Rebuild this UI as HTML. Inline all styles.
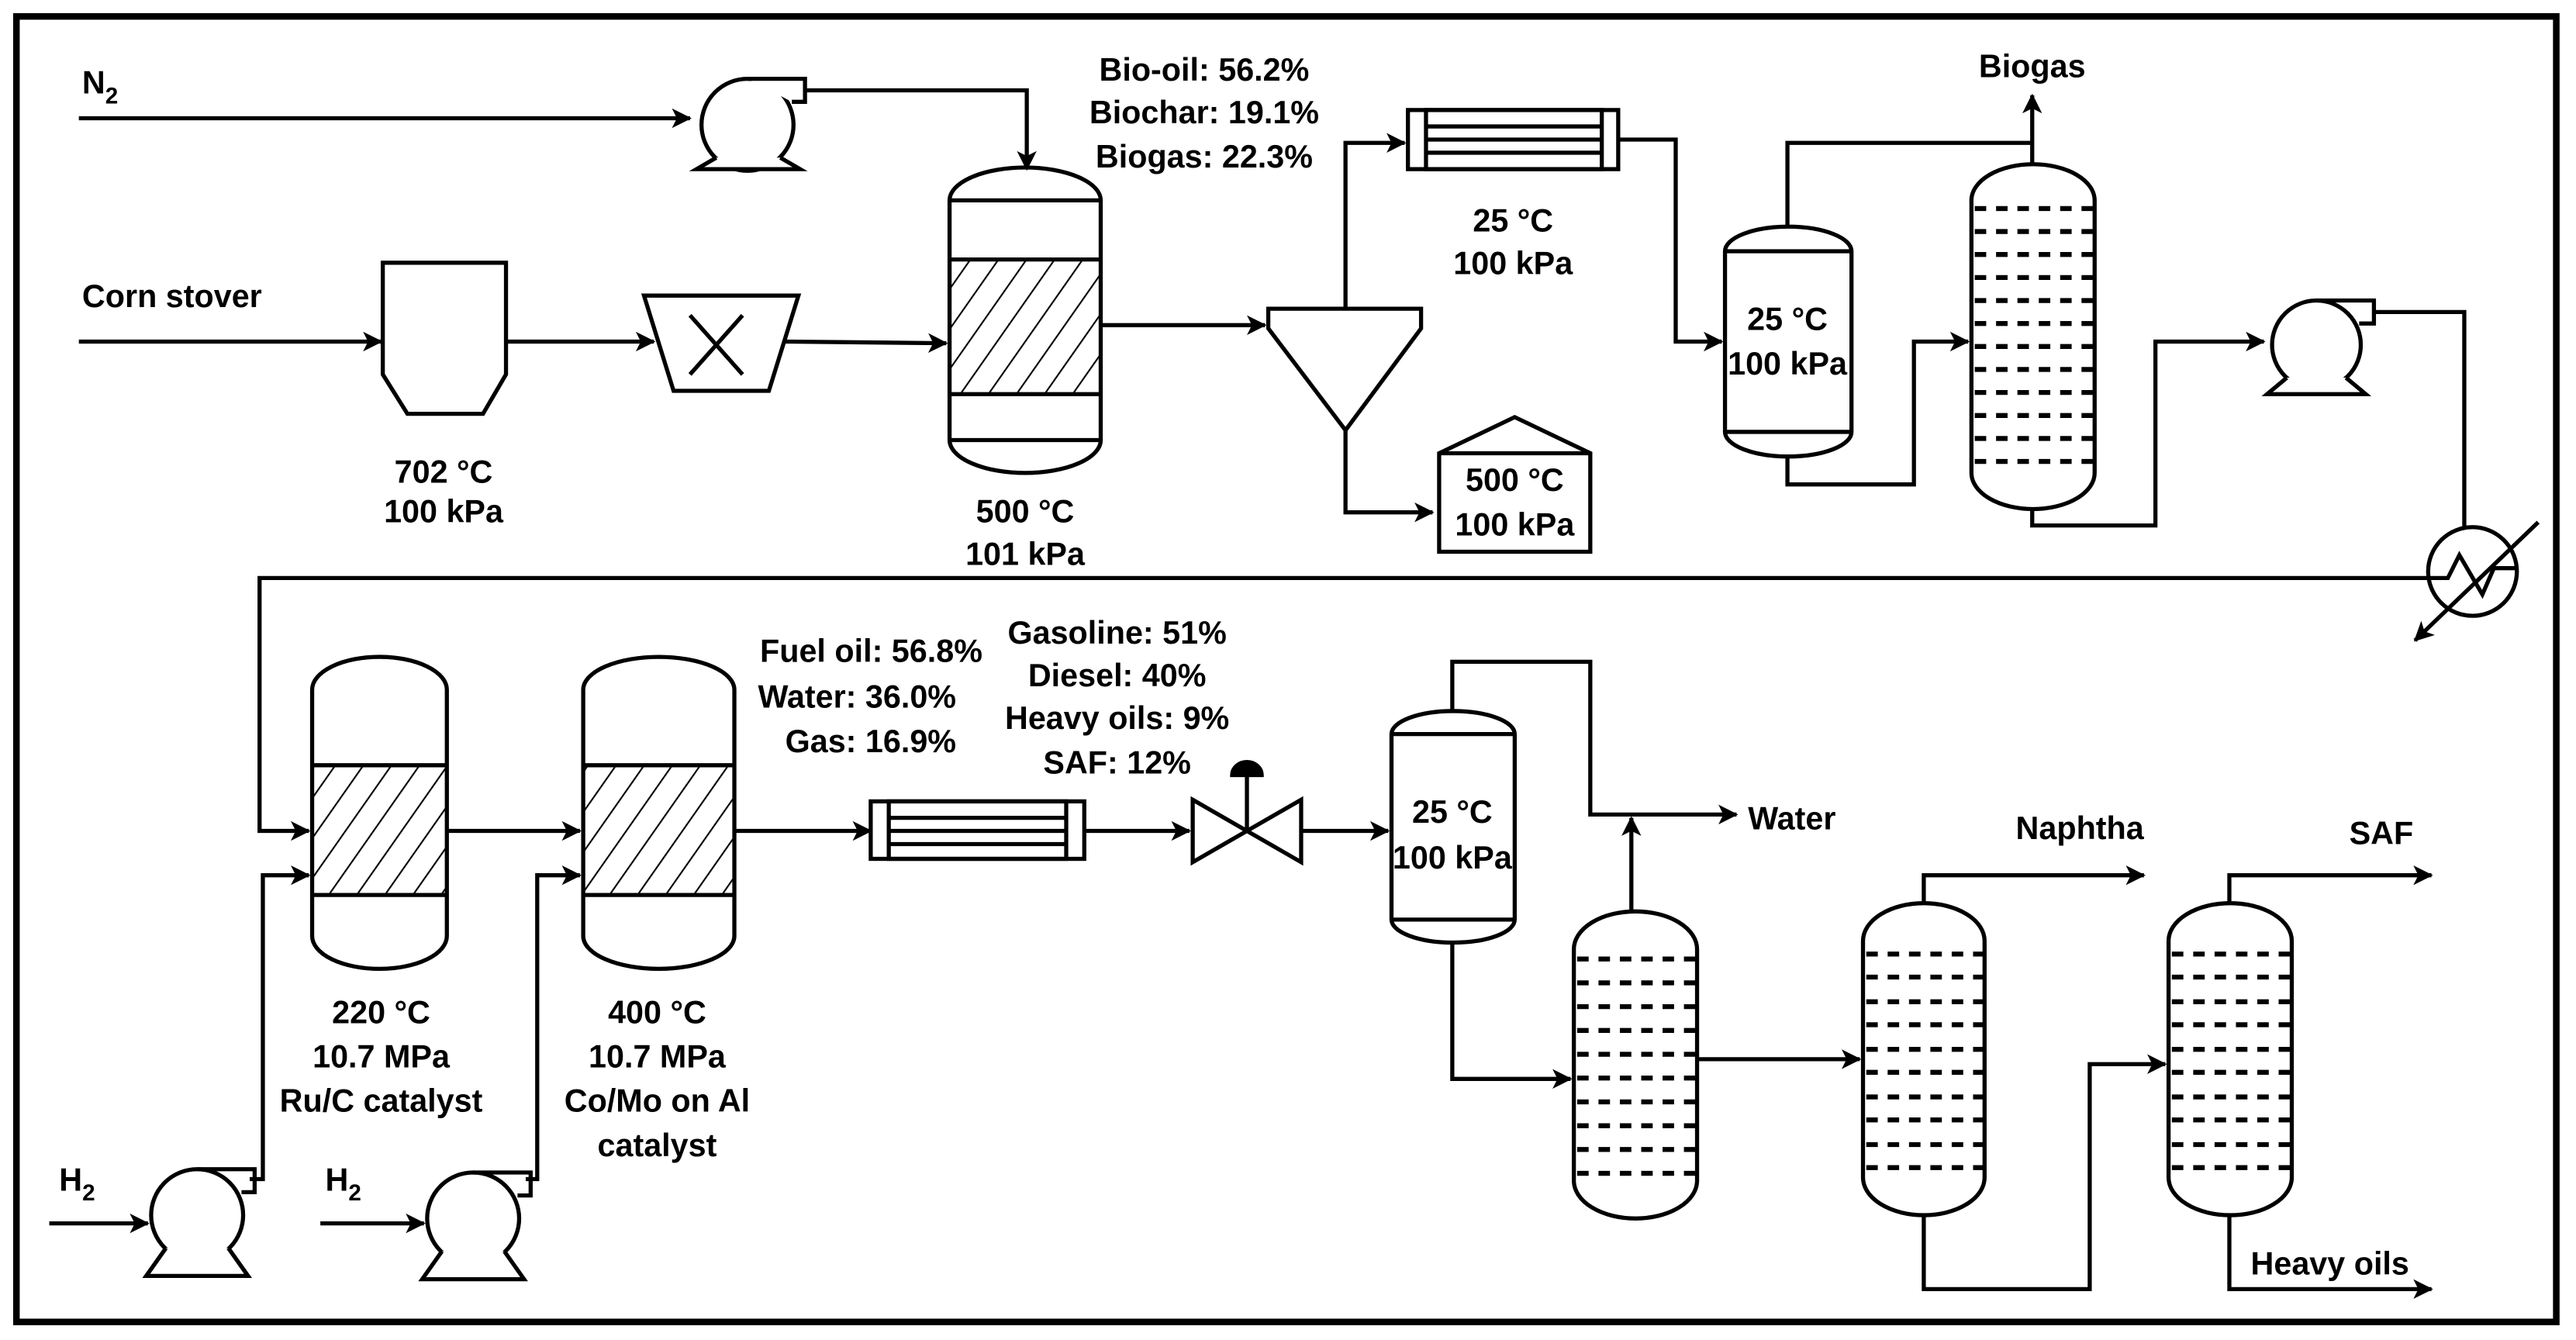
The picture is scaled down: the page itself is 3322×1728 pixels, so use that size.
<!DOCTYPE html>
<html><head><meta charset="utf-8"><style>
html,body{margin:0;padding:0;background:#fff;}
svg{display:block;}
text{font-family:"Liberation Sans",Arial,sans-serif;font-weight:bold;font-size:19.5px;fill:#000;}
</style></head><body>
<svg width="3322" height="1728" viewBox="0 0 1568 816" preserveAspectRatio="none" xmlns="http://www.w3.org/2000/svg">
<defs>
<marker id="a" viewBox="0 0 12 12" refX="11" refY="6" markerWidth="12" markerHeight="12" markerUnits="userSpaceOnUse" orient="auto">
<path d="M0,0 L12,6 L0,12 L3,6 Z" fill="#000"/>
</marker>
<pattern id="h" patternUnits="userSpaceOnUse" width="14" height="14" patternTransform="rotate(35)">
<line x1="0" y1="0" x2="0" y2="14" stroke="#000" stroke-width="2"/>
</pattern>
</defs>
<rect x="10" y="10" width="1546" height="795" fill="#fff" stroke="#000" stroke-width="4"/>
<g fill="none" stroke="#000" stroke-width="2.5">
<path d="M48,72 L420,72" marker-end="url(#a)"/>
<path d="M490,55 L625,55 L625,103" marker-end="url(#a)"/>
<path d="M48,208 L232,208" marker-end="url(#a)"/>
<path d="M308,208 L398,208" marker-end="url(#a)"/>
<path d="M478,208 L576,209" marker-end="url(#a)"/>
<path d="M670,198 L770,198" marker-end="url(#a)"/>
<path d="M819,188 L819,87 L855,87" marker-end="url(#a)"/>
<path d="M819,262 L819,312 L872,312" marker-end="url(#a)"/>
<path d="M985,85 L1020,85 L1020,208 L1048,208" marker-end="url(#a)"/>
<path d="M1088,138 L1088,87 L1237,87"/>
<path d="M1237,100 L1237,58" marker-end="url(#a)"/>
<path d="M1088,278 L1088,295 L1165,295 L1165,208 L1198,208" marker-end="url(#a)"/>
<path d="M1237,310 L1237,320 L1312,320 L1312,208 L1378,208" marker-end="url(#a)"/>
<path d="M1445,190 L1500,190 L1500,321"/>
<path d="M1478,352 L158,352 L158,506 L188,506" marker-end="url(#a)"/>
<path d="M272,506 L353,506" marker-end="url(#a)"/>
<path d="M30,745 L90,745" marker-end="url(#a)"/>
<path d="M195,745 L258,745" marker-end="url(#a)"/>
<path d="M152,718 L160,718 L160,533 L188,533" marker-end="url(#a)"/>
<path d="M320,718 L327,718 L327,533 L353,533" marker-end="url(#a)"/>
<path d="M447,506 L530,506" marker-end="url(#a)"/>
<path d="M660,506 L724,506" marker-end="url(#a)"/>
<path d="M792,506 L845,506" marker-end="url(#a)"/>
<path d="M884,433 L884,403 L968,403 L968,496 L1057,496" marker-end="url(#a)"/>
<path d="M993,555 L993,498" marker-end="url(#a)"/>
<path d="M884,573 L884,657 L956,657" marker-end="url(#a)"/>
<path d="M1033,645 L1132,645" marker-end="url(#a)"/>
<path d="M1171,550 L1171,533 L1305,533" marker-end="url(#a)"/>
<path d="M1171,740 L1171,785 L1272,785 L1272,648 L1318,648" marker-end="url(#a)"/>
<path d="M1357,550 L1357,533 L1480,533" marker-end="url(#a)"/>
<path d="M1357,740 L1357,785 L1480,785" marker-end="url(#a)"/>

<circle cx="455" cy="76" r="28" fill="#fff"/>
<path d="M455,48 L490,48 L490,62 L482,62" fill="#fff"/>
<path d="M436,96 L424,103 L487,103 L475,96" fill="#fff"/>
<circle cx="1410" cy="210" r="27" fill="#fff"/>
<path d="M1410,183 L1445,183 L1445,197 L1436,197"/>
<path d="M1392,230 L1380,240 L1440,240 L1428,230" fill="#fff"/>
<circle cx="120" cy="740" r="28" fill="#fff"/>
<path d="M120,712 L155,712 L155,726 L147,726"/>
<path d="M101,760 L89,777 L151,777 L139,760" fill="#fff"/>
<circle cx="288" cy="742" r="28" fill="#fff"/>
<path d="M288,714 L323,714 L323,728 L315,728"/>
<path d="M269,762 L257,779 L319,779 L307,762" fill="#fff"/>

<path d="M233,160 L308,160 L308,228 L294,252 L248,252 L233,228 Z" fill="#fff"/>
<path d="M392,180 L486,180 L468,238 L410,238 Z" fill="#fff"/>
<path d="M420,192 L452,228 M452,192 L420,228"/>

<rect x="578" y="158" width="92" height="82" fill="url(#h)" stroke="none"/>
<path d="M578,122 A46,20 0 0 1 670,122 L670,268 A46,20 0 0 1 578,268 Z"/>
<path d="M578,122 L670,122 M578,158 L670,158 M578,240 L670,240 M578,268 L670,268"/>

<path d="M772,188 L865,188 L865,200 L819,262 L772,200 Z" fill="#fff"/>
<path d="M876,276 L922,254 L968,276 L968,336 L876,336 Z" fill="#fff"/>
<path d="M876,276 L968,276"/>

<rect x="857" y="67" width="128" height="36" fill="#fff"/>
<rect x="868" y="67" width="107" height="36"/>
<path d="M868,77 L975,77 M868,85 L975,85 M868,93 L975,93"/>
<rect x="530" y="488" width="130" height="35" fill="#fff"/>
<rect x="541" y="488" width="108" height="35"/>
<path d="M541,498 L649,498 M541,506 L649,506 M541,514 L649,514"/>

<path d="M1050,153 A38.5,15 0 0 1 1127,153 L1127,263 A38.5,15 0 0 1 1050,263 Z" fill="#fff"/>
<path d="M1050,153 L1127,153 M1050,263 L1127,263"/>
<path d="M847,447 A37.5,14 0 0 1 922,447 L922,560 A37.5,14 0 0 1 847,560 Z" fill="#fff"/>
<path d="M847,447 L922,447 M847,560 L922,560"/>

<path d="M1200,122 A37.5,22 0 0 1 1275,122 L1275,288 A37.5,22 0 0 1 1200,288 Z" fill="#fff"/>
<path d="M958,578 A37.5,23 0 0 1 1033,578 L1033,719 A37.5,23 0 0 1 958,719 Z" fill="#fff"/>
<path d="M1134,573 A37,23 0 0 1 1208,573 L1208,717 A37,23 0 0 1 1134,717 Z" fill="#fff"/>
<path d="M1320,573 A37.5,23 0 0 1 1395,573 L1395,717 A37.5,23 0 0 1 1320,717 Z" fill="#fff"/>
<g stroke-dasharray="7,6" stroke-width="3">
<path d="M1202,127 L1275,127 M1202,141 L1275,141 M1202,155 L1275,155 M1202,169 L1275,169 M1202,183 L1275,183 M1202,197 L1275,197 M1202,211 L1275,211 M1202,225 L1275,225 M1202,239 L1275,239 M1202,253 L1275,253 M1202,267 L1275,267 M1202,281 L1275,281"/>
<path d="M960,584 L1033,584 M960,598.5 L1033,598.5 M960,613 L1033,613 M960,627.5 L1033,627.5 M960,642 L1033,642 M960,656.5 L1033,656.5 M960,671 L1033,671 M960,685.5 L1033,685.5 M960,700 L1033,700 M960,714.5 L1033,714.5"/>
<path d="M1136,581 L1208,581 M1136,610 L1208,610 M1136,639 L1208,639 M1136,668 L1208,668 M1136,697 L1208,697 M1136,595 L1208,595 M1136,624 L1208,624 M1136,653 L1208,653 M1136,682 L1208,682 M1136,711 L1208,711"/>
<path d="M1322,581 L1395,581 M1322,610 L1395,610 M1322,639 L1395,639 M1322,668 L1395,668 M1322,697 L1395,697 M1322,595 L1395,595 M1322,624 L1395,624 M1322,653 L1395,653 M1322,682 L1395,682 M1322,711 L1395,711"/>
</g>

<rect x="190" y="466" width="82" height="79" fill="url(#h)" stroke="none"/>
<path d="M190,420 A41,20 0 0 1 272,420 L272,570 A41,20 0 0 1 190,570 Z"/>
<path d="M190,466 L272,466 M190,545 L272,545"/>
<rect x="355" y="466" width="92" height="79" fill="url(#h)" stroke="none"/>
<path d="M355,420 A46,20 0 0 1 447,420 L447,570 A46,20 0 0 1 355,570 Z"/>
<path d="M355,466 L447,466 M355,545 L447,545"/>

<path d="M726,487 L792,525 L792,487 L726,525 Z" fill="#fff"/>
<path d="M759,506 L759,472"/>
<path d="M750,472 A9,8 0 0 1 768,472 Z" fill="#000"/>

<circle cx="1505" cy="348" r="27" fill="#fff"/>
<path d="M1478,352 L1490,352 L1497,338 L1511,362 L1518,346 L1532,346"/>
<path d="M1545,318 L1470,390" marker-end="url(#a)"/>
</g>

<text x="50" y="57">N<tspan font-size="14" dy="6">2</tspan></text>
<text x="50" y="187">Corn stover</text>
<text x="270" y="294" text-anchor="middle">702 °C</text>
<text x="270" y="318" text-anchor="middle">100 kPa</text>
<text x="624" y="318" text-anchor="middle">500 °C</text>
<text x="624" y="344" text-anchor="middle">101 kPa</text>
<text x="733" y="49" text-anchor="middle">Bio-oil: 56.2%</text>
<text x="733" y="75" text-anchor="middle">Biochar: 19.1%</text>
<text x="733" y="102" text-anchor="middle">Biogas: 22.3%</text>
<text x="921" y="141" text-anchor="middle">25 °C</text>
<text x="921" y="167" text-anchor="middle">100 kPa</text>
<text x="922" y="299" text-anchor="middle">500 °C</text>
<text x="922" y="326" text-anchor="middle">100 kPa</text>
<text x="1088" y="201" text-anchor="middle">25 °C</text>
<text x="1088" y="228" text-anchor="middle">100 kPa</text>
<text x="1237" y="47" text-anchor="middle">Biogas</text>
<text x="598" y="403" text-anchor="end">Fuel oil: 56.8%</text>
<text x="582" y="431" text-anchor="end">Water: 36.0%</text>
<text x="582" y="458" text-anchor="end">Gas: 16.9%</text>
<text x="680" y="392" text-anchor="middle">Gasoline: 51%</text>
<text x="680" y="418" text-anchor="middle">Diesel: 40%</text>
<text x="680" y="444" text-anchor="middle">Heavy oils: 9%</text>
<text x="680" y="471" text-anchor="middle">SAF: 12%</text>
<text x="884" y="501" text-anchor="middle">25 °C</text>
<text x="884" y="529" text-anchor="middle">100 kPa</text>
<text x="1064" y="505">Water</text>
<text x="1227" y="511">Naphtha</text>
<text x="1430" y="514">SAF</text>
<text x="1370" y="776">Heavy oils</text>
<text x="232" y="623" text-anchor="middle">220 °C</text>
<text x="232" y="650" text-anchor="middle">10.7 MPa</text>
<text x="232" y="677" text-anchor="middle">Ru/C catalyst</text>
<text x="400" y="623" text-anchor="middle">400 °C</text>
<text x="400" y="650" text-anchor="middle">10.7 MPa</text>
<text x="400" y="677" text-anchor="middle">Co/Mo on Al</text>
<text x="400" y="704" text-anchor="middle">catalyst</text>
<text x="36" y="725">H<tspan font-size="14" dy="6">2</tspan></text>
<text x="198" y="725">H<tspan font-size="14" dy="6">2</tspan></text>
</svg>
</body></html>
